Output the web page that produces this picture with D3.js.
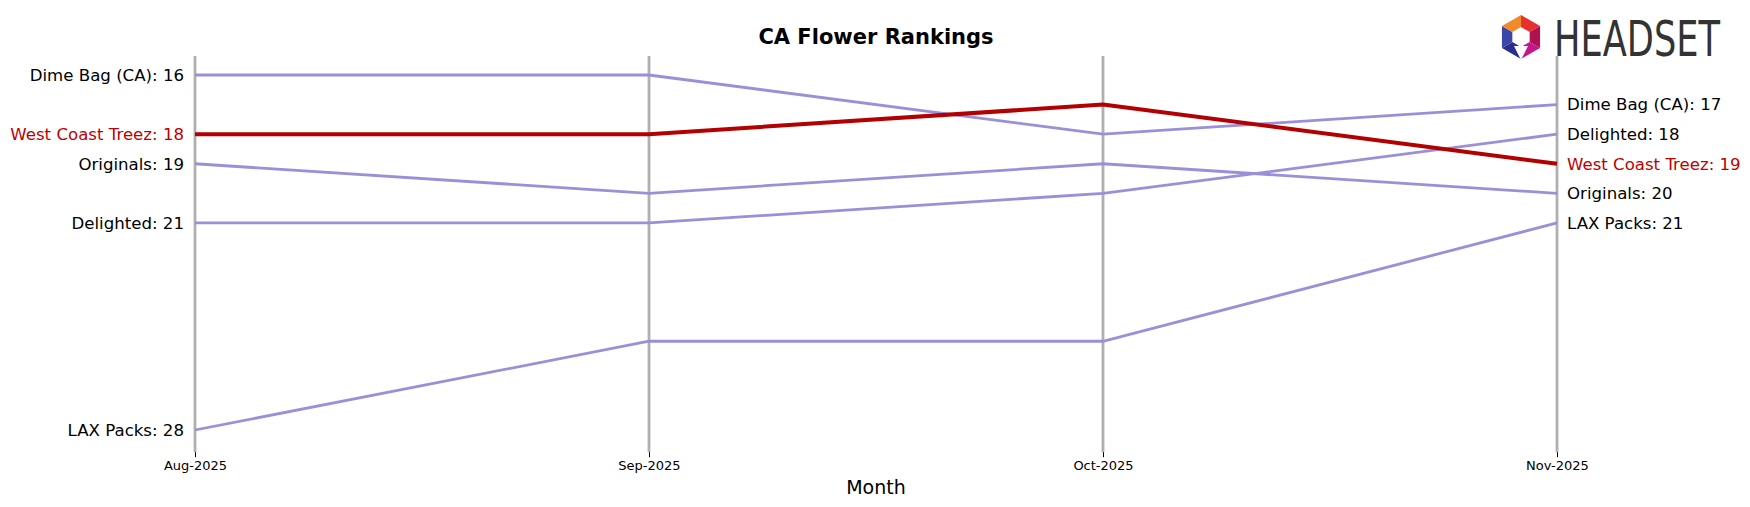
<!DOCTYPE html>
<html>
<head>
<script src="https://d3js.org/d3.v7.min.js"></script>
<style>
body { margin: 0; background: white; }
text { font-family: "DejaVu Sans", sans-serif; }
</style>
</head>
<body>
<svg id="chart" width="1750" height="507"></svg>
<script>
var months = ["Aug-2025", "Sep-2025", "Oct-2025", "Nov-2025"];
var brands = ["Dime Bag (CA)", "West Coast Treez", "Originals", "Delighted", "LAX Packs"];
var dimeBag = [16, 16, 18, 17];
var westCoastTreez = [18, 18, 17, 19];
var originals = [19, 20, 19, 20];
var delighted = [21, 21, 20, 18];
var laxPacks = [28, 25, 25, 21];
var highlight = "West Coast Treez";

var series = [dimeBag, westCoastTreez, originals, delighted, laxPacks].map(function(v, i) {
  return { name: brands[i], values: v };
});

var svg = d3.select("#chart");

var x = d3.scalePoint().domain(months).range([195, 1557]);
var y = d3.scaleLinear().domain([16, 28]).range([75, 430]);

// vertical month lines
svg.selectAll(".vline").data(months).enter().append("line")
  .attr("x1", d => x(d)).attr("x2", d => x(d))
  .attr("y1", y(15.36)).attr("y2", y(28.75))
  .attr("stroke", "#b0b0b0").attr("stroke-width", 2.8);

var xAxis = d3.axisBottom(x).tickSize(5).tickPadding(4);
var gx = svg.append("g").attr("transform", "translate(0," + y(28.75) + ")").call(xAxis);
gx.select(".domain").remove();
gx.selectAll("text").style("font-size", "13px").attr("fill", "#000");

var line = d3.line().x((d, i) => x(months[i])).y(d => y(d));

var ordered = series.filter(s => s.name !== highlight).concat(series.filter(s => s.name === highlight));
svg.selectAll(".series").data(ordered).enter().append("path")
  .attr("d", d => line(d.values))
  .attr("fill", "none")
  .attr("stroke", d => d.name === highlight ? "#b30000" : "#9b8fd9")
  .attr("stroke-width", d => d.name === highlight ? 4 : 2.8);

// left labels
svg.selectAll(".ll").data(series).enter().append("text")
  .attr("x", x(months[0]) - 11).attr("y", d => y(d.values[0]))
  .attr("dy", "0.35em").attr("text-anchor", "end")
  .style("font-size", "16.6px")
  .attr("fill", d => d.name === highlight ? "#c00000" : "#000")
  .text(d => d.name + ": " + d.values[0]);

// right labels
svg.selectAll(".rl").data(series).enter().append("text")
  .attr("x", x(months[3]) + 10).attr("y", d => y(d.values[3]))
  .attr("dy", "0.35em").attr("text-anchor", "start")
  .style("font-size", "16.6px")
  .attr("fill", d => d.name === highlight ? "#c00000" : "#000")
  .text(d => d.name + ": " + d.values[3]);

svg.append("text").attr("x", 876).attr("y", 44).attr("text-anchor", "middle")
  .style("font-size", "21px").style("font-weight", "bold").text("CA Flower Rankings");

svg.append("text").attr("x", 876).attr("y", 494).attr("text-anchor", "middle")
  .style("font-size", "19px").text("Month");

// logo
var logo = svg.append("g").attr("transform", "translate(1521,37)");
var cols = ["#e8312f", "#b0124f", "#c2178f", "#2a2f8f", "#3a46a8", "#f08a2a"];
for (var k = 0; k < 6; k++) {
  var a0 = (-90 + k * 60) * Math.PI / 180, a1 = (-30 + k * 60) * Math.PI / 180;
  logo.append("path")
    .attr("d", "M" + 22 * Math.cos(a0) + "," + 22 * Math.sin(a0) +
      "L" + 22 * Math.cos(a1) + "," + 22 * Math.sin(a1) +
      "L" + 10 * Math.cos(a1) + "," + 10 * Math.sin(a1) +
      "L" + 10 * Math.cos(a0) + "," + 10 * Math.sin(a0) + "Z")
    .attr("fill", cols[k]);
}
logo.append("path").attr("d", "M-7,9L7,9L0,23Z").attr("fill", "white");
svg.append("text").attr("x", 1554).attr("y", 56)
  .attr("textLength", 166).attr("lengthAdjust", "spacingAndGlyphs")
  .style("font-family", "'DejaVu Sans Condensed', sans-serif")
  .style("font-size", "50px").attr("fill", "#333").text("HEADSET");
</script>
</body>
</html>
